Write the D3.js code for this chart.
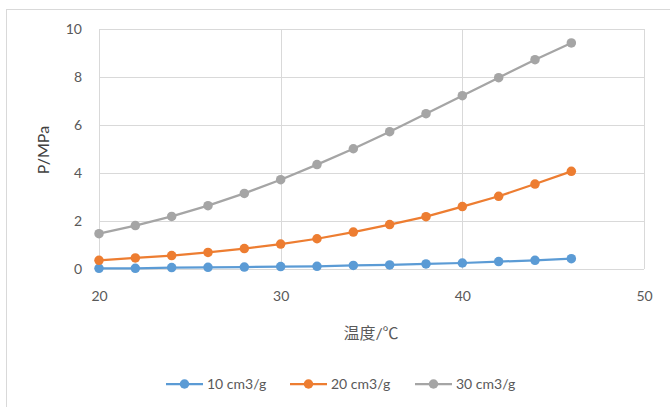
<!DOCTYPE html>
<html><head><meta charset="utf-8">
<script src="https://cdn.jsdelivr.net/npm/d3@7"></script>
<style>
html,body{margin:0;padding:0;background:#fff;}
svg{display:block;}
text{font-family:Lato,"Noto Sans CJK SC",sans-serif;}
</style></head>
<body>
<script>
const temps = [20,22,24,26,28,30,32,34,36,38,40,42,44,46];
const series10 = [0.03,0.03,0.06,0.07,0.08,0.10,0.11,0.15,0.17,0.21,0.25,0.31,0.36,0.43];
const series20 = [0.36,0.46,0.56,0.69,0.85,1.04,1.26,1.54,1.85,2.18,2.60,3.03,3.54,4.07];
const series30 = [1.47,1.81,2.19,2.64,3.15,3.72,4.35,5.01,5.72,6.47,7.22,7.97,8.72,9.42];
const seriesNames = ["10 cm3/g","20 cm3/g","30 cm3/g"];
const seriesColors = ["#5b9bd5","#ed7d31","#a5a5a5"];
const xTicks = [20,30,40,50];
const yTicks = [0,2,4,6,8,10];
const xTitle = "温度/℃";
const yTitle = "P/MPa";

const W=670,H=407;
const svg=d3.select("body").append("svg").attr("width",W).attr("height",H);
// outer chart frame
svg.append("rect").attr("x",6.5).attr("y",9.5).attr("width",W).attr("height",H)
  .attr("fill","#fff").attr("stroke","#d9d9d9").attr("stroke-width",1);

const L=99,R=644,T=29,B=269;
const x=d3.scaleLinear().domain([20,50]).range([L,R]);
const y=d3.scaleLinear().domain([0,10]).range([B,T]);

// gridlines
const g=svg.append("g");
g.selectAll(".hg").data(yTicks).enter().append("line")
  .attr("x1",L).attr("x2",R).attr("y1",d=>Math.round(y(d))+0.5).attr("y2",d=>Math.round(y(d))+0.5)
  .attr("stroke","#d9d9d9").attr("stroke-width",1);
g.selectAll(".vg").data(xTicks).enter().append("line")
  .attr("y1",T).attr("y2",B).attr("x1",d=>Math.round(x(d))+0.5).attr("x2",d=>Math.round(x(d))+0.5)
  .attr("stroke","#d9d9d9").attr("stroke-width",1);

// axes labels using d3 axes
const yAxis=d3.axisLeft(y).tickValues(yTicks).tickSize(0).tickPadding(17);
const ya=svg.append("g").attr("transform",`translate(${L},0)`).call(yAxis);
const xAxis=d3.axisBottom(x).tickValues(xTicks).tickSize(0).tickPadding(22);
const xa=svg.append("g").attr("transform",`translate(0,${B})`).call(xAxis);
[ya,xa].forEach(a=>{a.select(".domain").remove();
  a.selectAll("text").attr("fill","#595959").style("font-size","14px").style("font-family","Lato,sans-serif");});

// titles
svg.append("text").attr("x",371).attr("y",339).attr("text-anchor","middle")
  .attr("fill","#595959").style("font-size","16px").text(xTitle);
svg.append("text").attr("transform","translate(49,150) rotate(-90)").attr("text-anchor","middle")
  .attr("fill","#404040").style("font-size","16px").text(yTitle);

// series
const all=[series10,series20,series30];
const line=d3.line().x((d,i)=>x(temps[i])).y(d=>y(d));
all.forEach((s,k)=>{
  svg.append("path").datum(s).attr("d",line).attr("fill","none")
    .attr("stroke",seriesColors[k]).attr("stroke-width",2.25).attr("stroke-linejoin","round");
  svg.selectAll(".m"+k).data(s).enter().append("circle")
    .attr("cx",(d,i)=>x(temps[i])).attr("cy",d=>y(d)).attr("r",4.75)
    .attr("fill",seriesColors[k]);
});

// legend
const lx=[166,290,415], ly=384;
seriesNames.forEach((n,k)=>{
  const gg=svg.append("g");
  gg.append("line").attr("x1",lx[k]).attr("x2",lx[k]+37).attr("y1",ly).attr("y2",ly)
    .attr("stroke",seriesColors[k]).attr("stroke-width",2.25);
  gg.append("circle").attr("cx",lx[k]+18.5).attr("cy",ly).attr("r",4.75).attr("fill",seriesColors[k]);
  gg.append("text").attr("x",lx[k]+41).attr("y",ly+5).attr("fill","#595959")
    .style("font-size","14px").text(n);
});
</script>
</body></html>
